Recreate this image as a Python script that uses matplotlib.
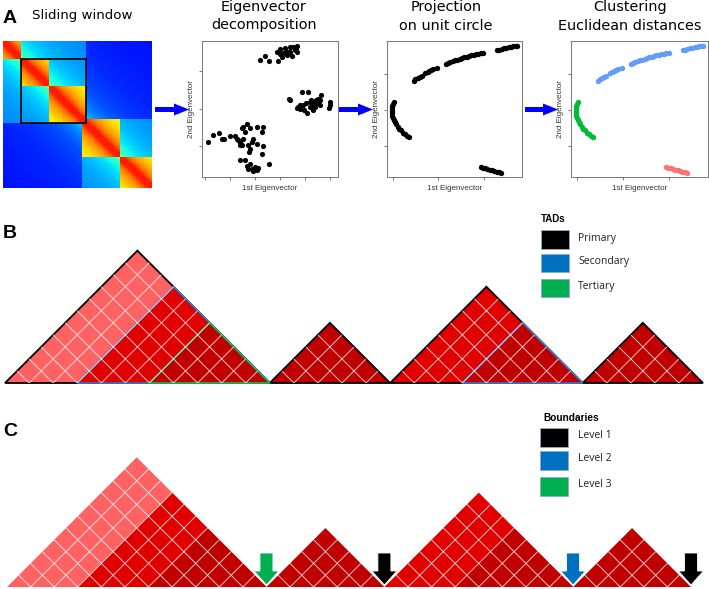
"""TAD calling schematic: sliding window, eigenvector steps, TAD levels, boundaries."""

import numpy as np
import matplotlib
matplotlib.use('Agg')
import matplotlib.pyplot as plt
from matplotlib.patches import Polygon, Rectangle, FancyArrow
from matplotlib.collections import LineCollection

# --- data -------------------------------------------------------------------
# Hi-C map (bins) used in the sliding window panel
hic_bins = 75
hic_tads = [(0, 9), (9, 23), (23, 42), (40, 59), (59, 75)]
hic_meta = [(0, 42), (40, 75)]
hic_window = (9, 42)

# eigenvector decomposition (1st, 2nd eigenvector, arbitrary units)
eig_x = [42.7, 46.3, 49.5, 56.1, 55.4, 57.3, 59.3, 61.0, 62.7, 64.6,
         65.9, 67.1, 68.3, 69.5, 70.2, 64.6, 61.7, 58.5, 69.0, 57.3,
         64.1, 64.6, 73.7, 78.0, 87.8, 69.5, 70.7, 72.0, 74.4, 76.8,
         77.3, 79.3, 80.5, 81.7, 82.9, 84.1, 85.4, 86.6, 81.7, 79.3,
         74.9, 87.1, 93.9, 94.4, 93.4, 72.0, 82.9, 85.4,
         4.1, 7.8, 12.2, 14.6, 16.3, 20.7, 24.4, 25.6, 28.0, 29.3,
         27.6, 29.3, 32.9, 35.4, 31.7, 30.5, 34.1, 35.4, 36.6, 40.2,
         40.7, 43.9, 45.1, 45.1, 43.9, 27.6, 31.7, 32.9, 35.4, 36.6,
         39.0, 40.2, 41.5, 37.8, 34.1, 49.5, 34.9, 30.0, 26.8, 37.8]
eig_y = [85.7, 88.7, 85.0, 85.3, 92.1, 93.9, 90.9, 94.6, 89.7, 92.1,
         89.2, 95.8, 93.4, 96.6, 91.6, 95.8, 92.6, 88.5, 94.6, 90.2,
         57.7, 56.5, 62.2, 62.2, 60.2, 50.4, 51.6, 49.9, 52.8, 54.1,
         47.4, 55.3, 56.5, 52.8, 55.3, 56.5, 54.1, 56.5, 49.1, 51.6,
         49.1, 52.8, 55.3, 52.8, 50.4, 52.8, 51.6, 57.7,
         25.8, 30.7, 32.7, 28.3, 27.8, 30.0, 30.2, 28.3, 25.8, 23.3,
         23.8, 36.1, 39.3, 36.1, 33.2, 36.9, 23.3, 20.9, 25.8, 36.9,
         24.6, 33.2, 36.9, 22.9, 17.2, 12.3, 12.3, 8.1, 9.8, 6.1,
         7.4, 4.9, 6.6, 4.2, 6.1, 9.8, 18.4, 28.3, 27.0, 28.3]

# projection on unit circle, split by cluster
circ_top_x = [19.7, 21.1, 22.6, 24.1, 25.6, 28.5, 30.0, 31.4, 32.9, 34.2,
              37.3, 43.5, 45.2, 46.9, 48.6, 50.4, 52.1, 53.8, 55.5, 57.2,
              59.0, 60.7, 62.4, 64.1, 65.8, 67.6, 69.3, 71.3, 81.6, 83.3,
              85.0, 86.7, 88.5, 90.2, 91.9, 93.6, 95.3, 96.3]
circ_top_y = [70.5, 71.7, 72.7, 73.7, 74.4, 76.4, 77.4, 78.1, 78.9, 79.4,
              80.3, 82.8, 83.5, 84.3, 85.0, 85.7, 86.2, 86.7, 87.5, 88.0,
              88.5, 88.9, 89.4, 89.7, 90.2, 90.4, 90.9, 91.2, 93.1, 93.6,
              94.1, 94.6, 94.8, 95.3, 95.6, 96.1, 96.3, 96.6]
circ_left_x = [5.4, 4.7, 3.9, 3.4, 3.4, 3.4, 3.7, 4.2, 4.9, 5.7,
               6.6, 7.9, 9.1, 10.3, 11.8, 13.3, 14.7, 16.2]
circ_left_y = [55.3, 53.8, 52.1, 50.4, 48.6, 46.9, 45.2, 43.5, 41.8, 40.3,
               38.8, 37.1, 35.6, 34.2, 32.7, 31.4, 30.2, 29.2]
circ_bot_x = [69.3, 71.0, 72.7, 74.4, 76.2, 77.9, 79.6, 81.3, 83.0, 84.8]
circ_bot_y = [7.4, 6.9, 6.4, 5.9, 5.4, 4.9, 4.4, 3.9, 3.7, 3.2]

# TAD hierarchy (bins)
tad_primary = [(0, 11), (11, 16), (16, 24), (24, 29)]
tad_secondary = [(3, 11), (19, 24)]
tad_tertiary = [(6, 11)]
boundaries = [11, 16, 24, 29]
boundary_levels = [3, 1, 2, 1]

tad_labels = ['Primary', 'Secondary', 'Tertiary']
level_labels = ['Level 1', 'Level 2', 'Level 3']

# --- figure -----------------------------------------------------------------
W, H = 709, 589
fig = plt.figure(figsize=(W / 100, H / 100), dpi=100)

level_colors = ['black', '#0070C0', '#00B050']
outline_colors = ['black', '#4472C4', '#22A845']
fill_colors = ['#C00000', '#E00000', '#FF6262']  # by number of nested levels
title_font = 'DejaVu Sans'
label_font = 'Liberation Sans'


def px_axes(left, top, right, bottom):
    return fig.add_axes([left / W, 1 - bottom / H,
                         (right - left) / W, (bottom - top) / H])


ax0 = px_axes(0, 0, W, H)
ax0.set_xlim(0, W)
ax0.set_ylim(H, 0)
ax0.axis('off')

for letter, yb in [('A', 22.7), ('B', 238), ('C', 436)]:
    ax0.text(3, yb, letter, fontsize=14, fontweight='bold',
             family=label_font, va='baseline')

ax0.text(32, 19.3, 'Sliding window', fontsize=9.6, family=title_font,
         va='baseline')
for xc, lines in [(264, ['Eigenvector', 'decomposition']),
                  (446, ['Projection', 'on unit circle']),
                  (630, ['Clustering', 'Euclidean distances'])]:
    ax0.text(xc, 11.5, lines[0], fontsize=10.4, family=title_font,
             ha='center', va='baseline')
    ax0.text(xc, 29.5, lines[1], fontsize=10.4, family=title_font,
             ha='center', va='baseline')

for x0, x1 in [(155, 189), (339, 373), (525, 558)]:
    ax0.add_patch(FancyArrow(x0, 109.5, x1 - x0, 0, width=5, head_width=12,
                             head_length=15, length_includes_head=True,
                             color='#0000FF', lw=0))

# --- Hi-C heatmap -----------------------------------------------------------
idx = np.arange(hic_bins)
I, J = np.meshgrid(idx, idx, indexing='ij')
dist = np.abs(I - J)


def inside(lo, hi):
    return (I >= lo) & (I < hi) & (J >= lo) & (J < hi)


mat = (0.13 + 0.08 * np.exp(-dist / 40) + 0.15 * np.exp(-dist / 10)
       + 0.1 * np.exp(-dist / 1.2))
for lo, hi in hic_meta:
    mat = mat + 0.1 * inside(lo, hi)
for lo, hi in hic_tads:
    mat = mat + inside(lo, hi) * (0.33 + 0.12 * np.exp(-dist / 8))
mat = np.clip(mat, 0, 0.88)

axh = px_axes(3, 41, 152, 188)
axh.imshow(mat, cmap='jet', vmin=0, vmax=1, aspect='auto',
           interpolation='nearest')
w0, w1 = hic_window
axh.add_patch(Rectangle((w0 - 0.5, w0 - 0.5), w1 - w0, w1 - w0,
                        fill=False, edgecolor='black', lw=1.2))
axh.axis('off')


# --- eigenvector scatter panels ---------------------------------------------
def eig_axes(ax, xticks, yticks):
    ax.set_xlim(0, 100)
    ax.set_ylim(0, 100)
    ax.set_xticks(xticks)
    ax.set_yticks(yticks)
    ax.set_xticklabels([])
    ax.set_yticklabels([])
    ax.tick_params(length=2.2, width=0.6, color='#666666')
    for sp in ax.spines.values():
        sp.set_color('#777777')
        sp.set_linewidth(0.7)
    ax.set_xlabel('1st Eigenvector', fontsize=5.8, family=label_font,
                  labelpad=0.3, color='#333333')
    ax.set_ylabel('2nd Eigenvector', fontsize=5.8, family=label_font,
                  labelpad=-0.5, color='#333333')


ax1 = px_axes(202, 41, 338, 177)
ax1.scatter(eig_x, eig_y, s=14, color='black', linewidths=0)
eig_axes(ax1, np.arange(2, 95, 18.4), [22.8, 50.3, 77.8])

ax2 = px_axes(387, 41, 522, 177)
ax3 = px_axes(571, 41, 708, 177)
clusters = [(circ_top_x, circ_top_y, '#619CFF'),
            (circ_left_x, circ_left_y, '#00BA38'),
            (circ_bot_x, circ_bot_y, '#F8766D')]
for cx, cy, col in clusters:
    ax2.scatter(cx, cy, s=15, color='black', linewidths=0)
    ax3.scatter(cx, cy, s=15, color=col, linewidths=0)
for ax in (ax2, ax3):
    eig_axes(ax, [4.2, 38, 71.8], [22.6, 49, 75.4])


# --- TAD triangles ----------------------------------------------------------
def tri(a, b):
    return [(a, 0), ((a + b) / 2, (b - a) / 2), (b, 0)]


def n_nested(tad):
    a, b = tad
    n = 0
    for level in (tad_secondary, tad_tertiary):
        if any(a <= c and d <= b and (c, d) != (a, b) for c, d in level):
            n += 1
    return n


def draw_tads(ax, outlines):
    for level in (tad_primary, tad_secondary, tad_tertiary):
        for tad in level:
            ax.add_patch(Polygon(tri(*tad), closed=True, lw=0,
                                 facecolor=fill_colors[n_nested(tad)]))
    for a, b in tad_primary:
        clip = Polygon(tri(a, b), closed=True, fill=False, lw=0)
        ax.add_patch(clip)
        n = b - a
        segs = [[(k, 0), (k + n, n)] for k in range(a + 1, b)]
        segs += [[(k, 0), (k - n, n)] for k in range(a + 1, b)]
        lc = LineCollection(segs, colors='white', linewidths=0.7, alpha=0.75)
        ax.add_collection(lc)
        lc.set_clip_path(clip)
    if outlines:
        for level, col in zip((tad_primary, tad_secondary, tad_tertiary),
                              outline_colors):
            for tad in level:
                ax.add_patch(Polygon(tri(*tad), closed=True, fill=False,
                                     edgecolor=col, lw=1.3,
                                     joinstyle='miter', clip_on=False))


n_tot = tad_primary[-1][1]
sb = (703 - 5) / n_tot
axB = px_axes(5, 383 - 6 * sb, 703, 386)
axB.set_xlim(0, n_tot)
axB.set_ylim(-3 / sb, 6)
axB.axis('off')
draw_tads(axB, True)

sc = (691 - 7) / n_tot
axC = px_axes(7, 587 - 6 * sc, 691, 589)
axC.set_xlim(0, n_tot)
axC.set_ylim(-2 / sc, 6)
axC.axis('off')
draw_tads(axC, False)
for xb, lev in zip(boundaries, boundary_levels):
    axC.add_patch(FancyArrow(xb, 34 / sc, 0, -32 / sc, width=13 / sc,
                             head_width=25 / sc, head_length=14 / sc,
                             length_includes_head=True,
                             facecolor=level_colors[lev - 1],
                             edgecolor='white', lw=0.6, clip_on=False))

# --- legends ----------------------------------------------------------------
ax0.text(541, 219, 'TADs', fontsize=7, fontweight='bold', family=label_font,
         va='center')
for lab, col, top in zip(tad_labels, level_colors, [230, 253.5, 278.5]):
    ax0.add_patch(Rectangle((541, top), 28, 18.5, facecolor=col,
                            edgecolor='#8EA9C8', lw=0.6))
    ax0.text(578, top + 8, lab, fontsize=7.5, family='Open Sans',
             va='center', color='#222222')

ax0.text(543, 418, 'Boundaries', fontsize=7.3, fontweight='bold',
         family=label_font, va='center')
for lab, col, top in zip(level_labels, level_colors, [428, 451, 477]):
    ax0.add_patch(Rectangle((540, top), 28, 18.5, facecolor=col,
                            edgecolor='#8EA9C8', lw=0.6))
    ax0.text(578, top + 7.5, lab, fontsize=7.5, family='Open Sans',
             va='center', color='#222222')

fig.savefig('out.png', dpi=100)
